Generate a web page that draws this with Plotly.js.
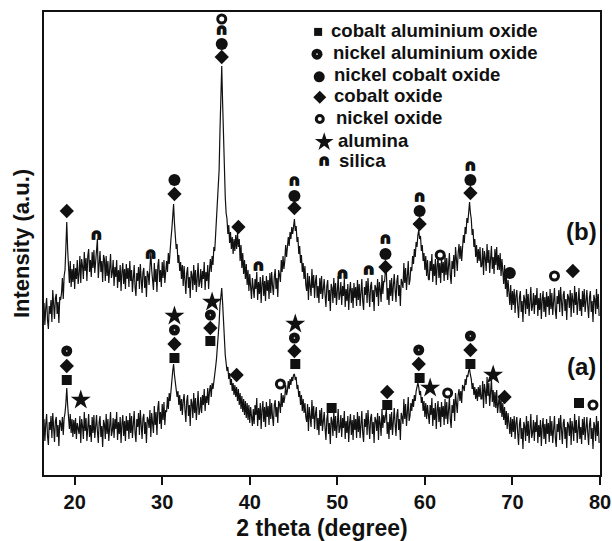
<!DOCTYPE html>
<html>
<head>
<meta charset="utf-8">
<script src="https://cdn.plot.ly/plotly-3.0.1.min.js"></script>
<style>html,body{margin:0;padding:0;background:#fff;}#chart{width:612px;height:541px;}</style>
</head>
<body>
<div id="chart"></div>
<script>
// ---- Data ----
const TWO_THETA_START = 16.5;
const TWO_THETA_STEP = 0.1;

// Pattern (b): intensity, arbitrary units (one row = 2 degrees)
const INTENSITY_B = [
  172,150,167,177,155,146,169,161,175,153, 185,165,156,177,181,161,173,152,178,175,
  182,197,176,199,205,228,253,226,212,192, 214,188,206,193,211,186,207,196,215,191,
  201,219,192,216,209,196,223,204,217,194, 219,226,203,215,198,223,207,225,202,217,
  225,236,197,218,224,203,214,193,220,216, 194,219,199,214,192,206,221,197,202,215,
  189,208,198,215,187,205,193,210,184,203, 212,191,206,186,211,196,207,188,214,194,
  205,183,200,210,188,179,202,194,208,186, 211,191,182,203,207,187,199,178,204,201,
  190,208,222,205,198,185,212,193,206,183, 209,216,193,205,188,213,197,215,192,207,
  214,203,222,211,229,236,246,258,271,252, 238,226,231,212,220,204,213,196,210,189,
  209,193,181,202,208,187,198,177,204,200, 185,210,190,205,183,197,212,188,193,206,
  187,204,196,213,185,203,194,210,186,205, 216,203,219,210,228,224,240,246,262,280,
  305,345,390,409,372,330,298,278,262,256, 241,250,232,243,226,238,221,236,224,240,
  226,242,228,236,214,230,207,222,201,215, 196,211,190,205,184,201,188,176,197,182,
  177,196,186,203,175,193,181,198,172,191, 200,179,194,174,199,184,195,176,202,182,
  203,189,180,198,206,186,197,178,205,200, 193,215,203,219,206,214,230,218,226,238,
  229,243,236,248,241,252,256,244,249,233, 238,221,229,212,220,203,212,196,209,190,
  184,202,175,199,192,179,206,187,200,177, 193,200,177,189,172,197,181,199,176,191,
  196,180,168,189,195,174,185,164,191,187, 172,197,177,192,170,184,199,175,180,193,
  170,189,179,196,168,186,174,191,165,184, 193,172,187,167,192,177,188,169,195,175,
  191,169,186,196,174,165,188,180,194,172, 197,177,168,189,193,173,185,164,190,187,
  178,196,169,193,186,173,200,181,194,193, 206,204,175,187,170,195,179,197,174,189,
  201,185,173,194,200,179,190,169,196,192, 187,212,192,207,185,199,214,190,195,208,
  204,219,211,226,218,233,228,240,245,236, 239,224,230,214,222,205,219,199,215,196,
  195,214,204,221,193,211,199,216,190,209, 218,197,212,192,217,202,213,194,220,200,
  217,195,212,222,200,191,214,206,220,198, 228,212,204,222,231,216,229,214,236,240,
  232,248,241,257,252,266,273,262,256,240, 246,228,236,218,230,212,226,214,228,208,
  209,227,200,224,217,204,231,212,225,202, 222,229,206,218,201,226,210,228,205,220,
  205,222,199,216,204,191,210,186,200,178, 195,184,170,190,165,184,170,186,162,179,
  185,169,157,178,184,163,174,153,180,176, 161,186,166,181,159,173,188,164,169,182,
  161,180,170,187,159,177,165,182,156,175, 184,163,178,158,183,168,179,160,186,166,
  182,160,177,187,165,156,179,171,185,163, 188,168,159,180,184,164,176,155,181,178,
  167,185,158,182,175,162,189,170,183,160, 180,187,164,176,159,184,168,186,163,178,
  185,169,157,178,184,163,174,153,180,176, 161,186,166,181,159
];

// Pattern (a): intensity, arbitrary units (one row = 2 degrees)
const INTENSITY_A = [
  56,34,51,61,39,30,53,45,59,37, 62,42,33,54,58,38,50,29,55,52,
  44,58,40,57,62,72,87,70,60,46, 61,42,56,38,55,41,57,36,52,44,
  41,59,32,56,49,36,63,44,57,34, 54,61,38,50,33,58,42,60,37,52,
  60,44,32,53,59,38,49,28,55,51, 36,61,41,56,34,48,63,39,44,57,
  37,56,46,63,35,53,41,58,32,51, 60,39,54,34,59,44,55,36,62,42,
  59,37,54,64,42,33,56,48,62,40, 65,45,36,57,61,41,53,32,58,55,
  47,65,38,62,55,42,69,50,63,40, 67,74,51,63,46,71,55,73,50,65,
  63,78,66,82,74,88,94,104,111,100, 92,86,78,84,70,80,64,76,60,74,
  81,65,53,74,80,59,70,49,76,72, 57,82,62,77,55,69,84,60,65,78,
  62,80,70,86,64,79,72,87,70,84, 90,78,92,86,96,100,108,116,126,140,
  152,170,183,187,172,150,132,120,112,104, 108,96,102,90,96,84,92,80,90,78,
  88,74,86,70,82,66,79,63,76,60, 74,57,72,55,70,52,68,58,49,66,
  51,70,60,77,49,67,55,72,46,65, 74,53,68,48,73,58,69,50,76,56,
  72,58,49,70,75,58,68,52,74,71, 62,82,68,80,72,78,90,80,84,94,
  86,96,90,98,94,100,101,95,98,86, 90,78,84,70,80,64,76,62,72,58,
  53,71,44,68,61,48,75,56,69,46, 61,68,45,57,40,65,49,67,44,59,
  63,47,35,56,62,41,52,31,58,54, 39,64,44,59,37,51,66,42,47,60,
  38,57,47,64,36,54,42,59,33,52, 61,40,55,35,60,45,56,37,63,43,
  59,37,54,64,42,33,56,48,62,40, 65,45,36,57,61,41,53,32,58,55,
  44,62,35,59,52,39,66,47,60,52, 64,66,41,53,36,61,45,63,40,55,
  67,51,39,60,66,45,56,35,62,58, 51,76,56,71,49,63,78,54,59,72,
  64,76,68,80,74,84,88,92,88,80, 84,72,78,64,74,58,72,56,70,54,
  51,70,60,77,49,67,55,72,46,65, 74,53,68,48,73,58,69,50,76,56,
  73,51,68,78,56,47,70,62,76,54, 82,68,62,80,86,74,84,72,90,88,
  84,96,90,100,98,104,106,100,96,86, 92,80,88,76,86,74,88,78,90,76,
  76,94,67,91,84,71,98,79,92,69, 89,96,73,85,68,83,67,85,62,77,
  80,62,76,58,72,55,68,50,64,46, 62,52,41,58,38,56,43,59,36,52,
  58,42,30,51,57,36,47,26,53,49, 34,59,39,54,32,46,61,37,42,55,
  34,53,43,60,32,50,38,55,29,48, 57,36,51,31,56,41,52,33,59,39,
  54,32,49,59,37,28,51,43,57,35, 60,40,31,52,56,36,48,27,53,50,
  39,57,30,54,47,34,61,42,55,32, 52,59,36,48,31,56,40,58,35,50,
  58,42,30,51,57,36,47,26,53,49, 34,59,39,54,32
];

// Phase identification marks: 2theta and the intensity level of each symbol
const COBALT_ALUMINIUM_OXIDE_X = [19.1, 31.4, 35.5, 45.2, 49.35, 55.7, 59.4, 65.2, 77.6];
const COBALT_ALUMINIUM_OXIDE_Y = [95, 117, 134, 111, 67, 70, 97, 111, 72];
const NICKEL_ALUMINIUM_OXIDE_X = [19.1, 31.4, 35.5, 45.1, 59.3, 65.2];
const NICKEL_ALUMINIUM_OXIDE_Y = [124, 145, 160, 137, 125, 139];
const NICKEL_COBALT_OXIDE_X = [31.4, 36.8, 45.1, 55.5, 59.4, 65.2, 69.7];
const NICKEL_COBALT_OXIDE_Y = [295, 431, 279, 221, 264, 295, 202];
const COBALT_OXIDE_X = [19.1, 31.4, 36.8, 38.7, 45.1, 55.5, 59.4, 65.2, 76.9,
                        19.1, 31.4, 35.5, 38.5, 45.1, 55.7, 59.3, 65.2, 69.1];
const COBALT_OXIDE_Y = [264, 281, 418, 248, 267, 208, 251, 282, 204,
                        109, 131, 147, 100, 124, 83, 111, 125, 78];
const NICKEL_OXIDE_X = [36.8, 61.75, 74.8, 43.5, 62.6, 79.2];
const NICKEL_OXIDE_Y = [456, 220, 199, 91, 82, 70];
const ALUMINA_X = [20.7, 31.4, 35.7, 45.2, 60.6, 67.8];
const ALUMINA_Y = [75, 159, 173, 151, 87, 100];
const SILICA_X = [22.5, 28.7, 36.8, 41.0, 45.1, 50.6, 53.6, 55.5, 59.4, 65.2];
const SILICA_Y = [239, 220, 444, 208, 293, 200, 204, 235, 277, 308];

const PHASE_NAMES = ['cobalt aluminium oxide', 'nickel aluminium oxide', 'nickel cobalt oxide',
                     'cobalt oxide', 'nickel oxide', 'alumina', 'silica'];
const PATTERN_LABELS = ['(b)', '(a)'];
const PATTERN_LABEL_X = [77.9, 77.9];
const PATTERN_LABEL_Y = [244, 109];

const X_TICKS = [20, 30, 40, 50, 60, 70, 80];

// ---- Styling / layout ----
const INK = '#111111';
const FONT = 'Liberation Sans, Arial, sans-serif';
const ARCH_FONT = {family: 'DejaVu Sans', size: 15, color: INK, weight: 'bold',
  shadow: '0.9px 0 0 #111111, -0.9px 0 0 #111111, 0 -0.9px 0 #111111'};

function markTrace(x, y, marker, extra) {
  return Object.assign({type: 'scatter', mode: 'markers', x: x, y: y,
    marker: marker, showlegend: false, hoverinfo: 'skip', cliponaxis: false}, extra || {});
}

const traces = [
  {type: 'scatter', mode: 'lines', x0: TWO_THETA_START, dx: TWO_THETA_STEP, y: INTENSITY_B,
   line: {color: INK, width: 1.2}, showlegend: false, hoverinfo: 'skip'},
  {type: 'scatter', mode: 'lines', x0: TWO_THETA_START, dx: TWO_THETA_STEP, y: INTENSITY_A,
   line: {color: INK, width: 1.2}, showlegend: false, hoverinfo: 'skip'},
  markTrace(COBALT_ALUMINIUM_OXIDE_X, COBALT_ALUMINIUM_OXIDE_Y, {symbol: 'square', size: 10, color: INK}),
  markTrace(NICKEL_ALUMINIUM_OXIDE_X, NICKEL_ALUMINIUM_OXIDE_Y, {symbol: 'circle', size: 11, color: INK}),
  markTrace(NICKEL_ALUMINIUM_OXIDE_X, NICKEL_ALUMINIUM_OXIDE_Y, {symbol: 'circle', size: 1.6, color: '#ffffff'}),
  markTrace(NICKEL_COBALT_OXIDE_X, NICKEL_COBALT_OXIDE_Y, {symbol: 'circle', size: 12, color: INK}),
  markTrace(COBALT_OXIDE_X, COBALT_OXIDE_Y, {symbol: 'diamond', size: 11, color: INK}),
  markTrace(NICKEL_OXIDE_X, NICKEL_OXIDE_Y, {symbol: 'circle-open', size: 8, color: INK, line: {width: 3, color: INK}}),
  markTrace(ALUMINA_X, ALUMINA_Y, {symbol: 'star', size: 15, color: INK}),
  {type: 'scatter', mode: 'text', x: SILICA_X, y: SILICA_Y, text: SILICA_X.map(() => '<b>∩</b>'),
   textfont: ARCH_FONT, showlegend: false, hoverinfo: 'skip', cliponaxis: false}
];

// Legend (drawn at the top right, symbols on an overlay 0..1 frame)
const LEG_SYM_X = [0.493, 0.491, 0.495, 0.496, 0.496, 0.504, 0.504];
const LEG_ROW_Y = [0.957, 0.909, 0.860, 0.816, 0.769, 0.719, 0.676];
const LEG_TEXT_X = [0.512, 0.516, 0.518, 0.518, 0.521, 0.525, 0.527];
const legMarkers = [
  {symbol: 'square', size: 8, color: INK},
  {symbol: 'circle', size: 11, color: INK},
  {symbol: 'circle', size: 11, color: INK},
  {symbol: 'diamond', size: 10, color: INK},
  {symbol: 'circle-open', size: 7, color: INK, line: {width: 3, color: INK}},
  {symbol: 'star', size: 14, color: INK}
];
legMarkers.forEach((m, i) => {
  traces.push(Object.assign(markTrace([LEG_SYM_X[i]], [LEG_ROW_Y[i]], m), {xaxis: 'x2', yaxis: 'y2'}));
});
traces.push(Object.assign(markTrace([LEG_SYM_X[1]], [LEG_ROW_Y[1]], {symbol: 'circle', size: 1.6, color: '#ffffff'}), {xaxis: 'x2', yaxis: 'y2'}));
traces.push({type: 'scatter', mode: 'text', x: [LEG_SYM_X[6]], y: [LEG_ROW_Y[6]], text: ['<b>∩</b>'],
  textfont: ARCH_FONT, xaxis: 'x2', yaxis: 'y2', showlegend: false, hoverinfo: 'skip', cliponaxis: false});

const annotations = PHASE_NAMES.map((name, i) => ({
  xref: 'paper', yref: 'paper', x: LEG_TEXT_X[i], y: LEG_ROW_Y[i] + 0.004,
  xanchor: 'left', yanchor: 'middle', showarrow: false, text: '<b>' + name + '</b>',
  font: {family: FONT, size: 18.6, color: INK, weight: 'bold'}
}));
PATTERN_LABELS.forEach((t, i) => annotations.push({
  xref: 'x', yref: 'y', x: PATTERN_LABEL_X[i], y: PATTERN_LABEL_Y[i],
  xanchor: 'center', yanchor: 'middle', showarrow: false, text: '<b>' + t + '</b>',
  font: {family: FONT, size: 24, color: INK, weight: 'bold'}
}));

const layout = {
  width: 612, height: 541,
  margin: {l: 44, r: 12, t: 12, b: 66},
  paper_bgcolor: '#ffffff', plot_bgcolor: '#ffffff',
  showlegend: false,
  xaxis: {
    range: [16.5, 80], tickvals: X_TICKS, ticks: 'outside', ticklen: 8, tickwidth: 2,
    tickcolor: INK, showline: true, linecolor: INK, linewidth: 2, mirror: true,
    showgrid: false, zeroline: false,
    tickfont: {family: FONT, size: 20, color: INK, weight: 'bold'},
    title: {text: '2 theta (degree)', standoff: 8, font: {family: FONT, size: 23, color: INK, weight: 'bold'}}
  },
  yaxis: {
    range: [0, 463], showticklabels: false, ticks: '', showline: true, linecolor: INK,
    linewidth: 2, mirror: true, showgrid: false, zeroline: false,
    title: {text: 'Intensity (a.u.)', standoff: 6, font: {family: FONT, size: 22, color: INK, weight: 'bold'}}
  },
  xaxis2: {overlaying: 'x', range: [0, 1], visible: false, anchor: 'y2'},
  yaxis2: {overlaying: 'y', range: [0, 1], visible: false, anchor: 'x2'},
  annotations: annotations
};

Plotly.newPlot('chart', traces, layout, {staticPlot: true, displayModeBar: false});
</script>
</body>
</html>
